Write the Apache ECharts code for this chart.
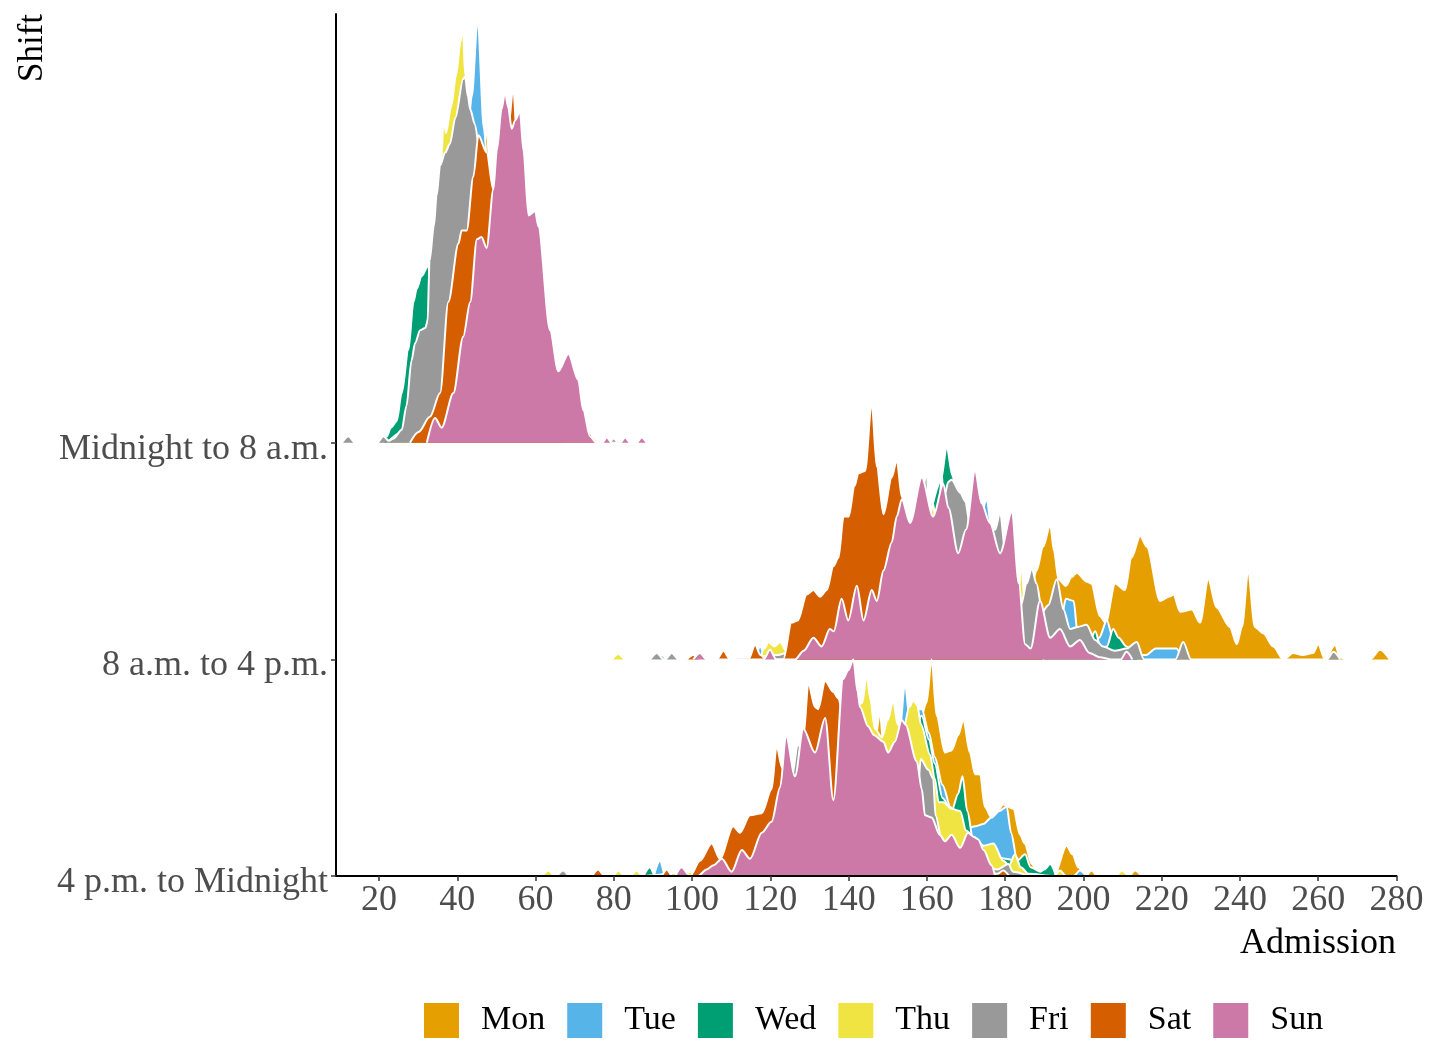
<!DOCTYPE html>
<html><head><meta charset="utf-8">
<script src="https://cdn.jsdelivr.net/npm/echarts@6/dist/echarts.min.js"></script>
<style>html,body{margin:0;padding:0;background:#fff}#c{width:1435px;height:1045px}</style>
</head><body><div id="c"></div>
<script>
const days = ['Mon','Tue','Wed','Thu','Fri','Sat','Sun'];
const dayColors = ['#E69F00','#56B4E9','#009E73','#F0E442','#999999','#D55E00','#CC79A7'];
// shifts listed bottom row first
const shifts = ['4 p.m. to Midnight','8 a.m. to 4 p.m.','Midnight to 8 a.m.'];
const shiftTicks = [0,1,2];
const xTicks = [20,40,60,80,100,120,140,160,180,200,220,240,260,280];

// ridge heights ([admission, scaled density]); 1 = spacing between ridges
// ---- Midnight to 8 a.m.
const night_mon = [[20,0],[28,0.1],[32,0.3],[36,0.7],[40,1.0],[44,1.2],[46.5,1.3],[47.5,1.45],[48.5,1.2],[50,1.0],[54,0.7],[58,0.4],[62,0.2],[66,0.05],[70,0]];
const night_tue = [[22,0],[28,0.1],[32,0.4],[36,0.9],[40,1.2],[42.5,1.4],[43.7,1.6],[45.2,1.96],[46.8,1.45],[48,1.2],[50,1.0],[53,0.7],[56,0.45],[60,0.2],[65,0.05],[70,0]];
const night_wed = [[21,0],[22,0.03],[23,0.07],[24.5,0.1],[25.8,0.23],[27.5,0.43],[28.8,0.65],[29.6,0.71],[30.9,0.77],[32.6,0.82],[33.2,0.7],[35,0.95],[37,1.15],[40,1.2],[43,1.05],[46,0.8],[50,0.55],[54,0.35],[58,0.18],[62,0.07],[66,0.02],[70,0]];
const night_thu = [[22,0],[26,0.05],[30,0.3],[33,0.6],[35.5,1.1],[36.1,1.35],[36.4,1.5],[37.1,1.43],[38.4,1.55],[39.7,1.7],[40.8,1.85],[41.4,1.93],[42.0,1.7],[42.6,1.5],[44,1.25],[46,1.05],[50,0.75],[55,0.42],[60,0.2],[65,0.06],[70,0]];
const night_fri = [[10.5,0],[12.2,0.03],[13.9,0],[19.5,0],[21.1,0.03],[22.5,0.01],[23.7,0.02],[25.8,0.06],[27,0.17],[28.3,0.38],[29.2,0.46],[30.5,0.52],[31.8,0.53],[32.4,0.56],[32.9,0.84],[34,1.0],[34.7,1.14],[35.6,1.28],[36.9,1.34],[38.1,1.38],[39.5,1.5],[41.5,1.68],[42,1.69],[42.7,1.6],[43.3,1.54],[44.5,1.47],[46,1.3],[48,1.1],[50,0.9],[53,0.6],[56,0.35],[60,0.15],[64,0.05],[68,0],[78.8,0],[79.9,0.02],[81,0]];
const night_sat = [[27.9,0],[30.1,0.05],[33,0.12],[35.6,0.23],[37.7,0.65],[40.3,0.92],[41.1,0.98],[42.4,0.98],[44.1,1.23],[45.4,1.42],[47.5,1.34],[49.2,1.17],[51,1.3],[53,1.45],[54.3,1.64],[55.2,1.42],[57,1.2],[60,0.9],[64,0.4],[68,0.22],[72,0.07],[76,0]];
const night_sun = [[32.2,0],[34.3,0.115],[36,0.07],[39,0.23],[41.5,0.49],[43.3,0.65],[45,0.94],[46.2,0.95],[47.5,0.9],[49.2,1.17],[50.1,1.35],[51.3,1.54],[52.2,1.62],[53,1.55],[53.9,1.45],[54.8,1.49],[56,1.53],[56.9,1.35],[58.2,1.05],[59.9,1.07],[60.7,1.0],[63.7,0.52],[65.8,0.33],[68.4,0.41],[70.9,0.29],[72.2,0.15],[73.9,0.03],[75.6,0],[77,0],[78.2,0.025],[79.5,0],[81.6,0],[82.9,0.025],[84.2,0],[85.8,0],[87.1,0.025],[88.4,0]];

// ---- 8 a.m. to 4 p.m.
const day_mon = [[115,0],[125,0.03],[135,0.08],[145,0.15],[155,0.22],[165,0.3],[175,0.3],[182,0.25],[185,0.26],[187,0.36],[188,0.41],[189.7,0.52],[191.5,0.62],[192.5,0.5],[193.6,0.37],[195.5,0.34],[197,0.38],[198.3,0.4],[200.8,0.36],[202,0.35],[204.2,0.2],[205.7,0.17],[208.1,0.35],[210.6,0.32],[212.3,0.47],[214.5,0.57],[216.2,0.52],[219.6,0.27],[222,0.29],[223,0.3],[224.7,0.22],[227.7,0.23],[229.8,0.17],[231.9,0.37],[234,0.24],[237.4,0.15],[239.2,0.07],[240.5,0.15],[242.1,0.4],[243.8,0.15],[246,0.12],[248.5,0.06],[251.1,0],[253.6,0.03],[256,0.02],[258.7,0.03],[260,0.07],[261.7,0],[264.3,0.066],[265.6,0.01],[267,0],[273.2,0],[275.8,0.045],[278.3,0]];
const day_tue = [[90.5,0],[92.2,0.02],[93.8,0],[115.8,0],[117.4,0.06],[118.8,0],[122,0.02],[130,0.15],[140,0.35],[150,0.5],[158,0.62],[160.5,0.68],[161.2,0.75],[162,0.62],[166,0.6],[173,0.6],[175.3,0.74],[176.5,0.6],[180,0.4],[185,0.22],[190,0.18],[194.5,0.2],[195.5,0.28],[197.5,0.27],[198.5,0.12],[201,0.07],[204,0.1],[206,0.18],[207.5,0.1],[210,0.04],[213,0.02],[216,0.02],[218.5,0.05],[223.8,0.05],[225,0]];
const day_wed = [[118.5,0],[119.5,0.02],[120.3,0.1],[121,0.04],[123,0.03],[125,0.06],[130,0.2],[135,0.3],[145,0.45],[155,0.5],[160,0.65],[163.5,0.82],[165.1,0.98],[166.5,0.85],[168,0.7],[172,0.5],[178,0.35],[185,0.2],[192,0.1],[198,0.08],[201.5,0.08],[203,0.13],[204.5,0.05],[206,0.06],[207.6,0.14],[209,0.1],[211,0.06],[212.5,0.04],[214,0]];
const day_thu = [[79.5,0],[81.2,0.025],[82.9,0],[117,0],[118.5,0.05],[119.5,0.08],[121,0.06],[122.5,0.08],[124,0.04],[130,0.13],[140,0.3],[150,0.45],[158,0.6],[161,0.68],[161.6,0.72],[162.3,0.62],[163.3,0.75],[163.8,0.86],[164.3,0.72],[170,0.55],[178,0.35],[182,0.25],[183.5,0.3],[184.1,0.46],[185,0.25],[190,0.15],[195,0.1],[200,0.05],[205,0.02],[210,0]];
const day_fri = [[89.3,0],[91,0.03],[92.7,0],[93.1,0],[94.8,0.03],[96.5,0],[104,0],[115,0.01],[122,0.02],[124,0.03],[126,0.1],[130,0.2],[140,0.4],[150,0.55],[155,0.6],[158.5,0.75],[160,0.86],[160.6,0.65],[163,0.65],[164.5,0.76],[165.5,0.82],[166.3,0.83],[168.5,0.77],[169.8,0.73],[171,0.62],[174,0.55],[177.5,0.6],[178.7,0.68],[180,0.5],[182,0.3],[184,0.25],[185.5,0.35],[186.8,0.42],[188,0.35],[189.5,0.22],[191,0.25],[193.2,0.37],[194.9,0.23],[196.6,0.14],[198.5,0.15],[200.8,0.16],[203,0.09],[205,0.06],[208,0.04],[211,0.05],[213.6,0.08],[215.5,0],[223.5,0],[225.5,0.08],[227.5,0],[262.2,0],[263.9,0.035],[265.6,0]];
const day_sat = [[98.6,0],[100.3,0.02],[102,0],[106.3,0],[108,0.04],[109.7,0],[114.4,0],[116.1,0.066],[117.5,0.02],[119,0],[123.3,0],[125.4,0.17],[127,0.18],[129.3,0.3],[131,0.32],[132.7,0.29],[134.4,0.32],[136.1,0.43],[137.4,0.47],[138.7,0.66],[140,0.66],[141.5,0.8],[142.5,0.86],[144.2,0.87],[145.9,1.18],[147.2,0.89],[148.9,0.67],[151,0.84],[152.3,0.92],[153.6,0.75],[156,0.58],[160,0.5],[165,0.4],[170,0.3],[175,0.2],[180,0.1],[185,0.04],[190,0]];
const day_sun = [[100.3,0],[102,0.03],[103.7,0],[118.3,0],[119.9,0.045],[121.5,0],[126.3,0],[128.5,0.04],[131,0.1],[133.1,0.06],[135.2,0.14],[136.2,0.13],[138.2,0.28],[139.9,0.18],[142.1,0.34],[143.8,0.18],[145.9,0.32],[147.2,0.27],[148.9,0.41],[151,0.54],[152.3,0.66],[153.6,0.74],[155.7,0.63],[158.7,0.84],[161.6,0.66],[164.2,0.81],[165.5,0.7],[168,0.49],[170,0.6],[172.3,0.87],[174,0.72],[176.1,0.63],[178.7,0.49],[181.7,0.68],[183.5,0.35],[185.1,0.07],[186.5,0.05],[188.9,0.27],[191.5,0.1],[194,0.14],[196.6,0.06],[199.1,0.09],[201.5,0.03],[204.2,0.01],[207,0],[209.5,0],[211,0.035],[212.5,0]];

// ---- 4 p.m. to Midnight
const eve_mon = [[95,0],[110,0.05],[120,0.15],[130,0.3],[140,0.5],[145,0.6],[147,0.65],[148,0.76],[148.8,0.62],[152,0.65],[156,0.7],[158,0.7],[159.9,0.8],[161.2,1.0],[162.5,0.74],[164.6,0.57],[166.3,0.58],[168,0.65],[169.3,0.72],[171,0.57],[172.3,0.47],[173.6,0.47],[174.8,0.32],[176.5,0.27],[178,0.3],[179.5,0.33],[182.1,0.31],[183.8,0.19],[185,0.15],[186.8,0.055],[188,0.03],[190,0],[192.5,0],[195.7,0.14],[197.2,0.1],[198.7,0.04],[200.5,0],[202.1,0.025],[203.6,0],[211.6,0],[213.2,0.025],[214.8,0]];
const eve_tue = [[90.2,0],[91.8,0.07],[93.2,0],[100,0.02],[110,0.1],[120,0.28],[130,0.5],[140,0.62],[145,0.6],[150,0.62],[153,0.66],[154.4,0.89],[155.5,0.74],[157,0.77],[158.7,0.77],[160.5,0.66],[162,0.55],[164,0.42],[166,0.32],[167.5,0.27],[170,0.22],[172.5,0.23],[174.4,0.24],[176.5,0.27],[178.5,0.3],[180.4,0.32],[181.5,0.2],[183,0.08],[185,0.05],[187,0.02],[188,0.03],[189.5,0],[197.5,0],[199.1,0.025],[200.7,0]];
const eve_wed = [[87.6,0],[89.2,0.04],[90.6,0],[95,0],[105,0.05],[115,0.15],[125,0.35],[135,0.5],[145,0.58],[148.5,0.64],[149.3,0.72],[150.2,0.6],[155,0.62],[157,0.7],[158.7,0.74],[160.5,0.63],[162,0.52],[164,0.36],[166.3,0.3],[168,0.38],[169.1,0.46],[170.3,0.3],[172,0.15],[175,0.1],[180,0.08],[183,0.07],[185.1,0.1],[186.5,0.04],[189,0.02],[190,0.03],[191.5,0.055],[193,0]];
const eve_thu = [[61.7,0],[63.3,0.025],[64.9,0],[79.6,0],[81.2,0.025],[82.8,0],[84.2,0],[85.8,0.025],[87.4,0],[100,0.02],[110,0.1],[120,0.28],[130,0.5],[138,0.7],[141.5,0.78],[143.5,0.8],[144.6,0.93],[145.5,0.82],[146.7,0.68],[148.5,0.64],[150,0.72],[151.4,0.81],[152.5,0.7],[154,0.68],[155.5,0.78],[156.5,0.81],[157.5,0.79],[158.5,0.7],[160.8,0.56],[162,0.45],[163,0.34],[164.2,0.34],[166.3,0.31],[168.5,0.3],[170,0.21],[172,0.18],[174.5,0.14],[177,0.15],[179.5,0.07],[181,0.05],[182.5,0.1],[184,0.04],[186,0.01],[192.4,0],[194,0.025],[195.6,0],[208.2,0],[209.8,0.025],[211.4,0]];
const eve_fri = [[65.5,0],[67.1,0.025],[68.7,0],[100,0],[105,0.02],[107.6,0.06],[108.8,0.2],[109.5,0.05],[112,0.08],[118,0.2],[122,0.33],[124,0.35],[125.4,0.45],[127,0.6],[128.3,0.69],[129,0.6],[130,0.55],[132,0.5],[136,0.55],[140,0.6],[145,0.55],[150,0.5],[155,0.45],[157.8,0.42],[158.4,0.54],[160.4,0.49],[161.6,0.45],[162.2,0.28],[164,0.15],[168,0.1],[172,0.07],[173.1,0.1],[174,0.05],[178,0.03],[180.8,0.055],[182,0.02],[186,0]];
const eve_sat = [[74.4,0],[76,0.03],[77.6,0],[92,0],[93.5,0.03],[95,0],[99.5,0],[102,0.07],[105,0.15],[107.1,0.08],[110.5,0.23],[112.2,0.2],[114.8,0.28],[117.8,0.29],[120.3,0.4],[121.6,0.6],[123,0.5],[124.5,0.45],[126,0.45],[127.5,0.5],[128.5,0.65],[129.7,0.89],[131.4,0.78],[132.2,0.77],[134,0.9],[136.1,0.85],[137.4,0.82],[138.5,0.75],[142,0.6],[146,0.45],[150,0.32],[155,0.18],[160,0.1],[168,0.05],[174,0.02],[178,0.01],[179.5,0.025],[181,0]];
const eve_sun = [[95.7,0],[97.3,0.04],[99.5,0],[101.5,0],[103.7,0.03],[105.5,0.05],[107.6,0.08],[110.1,0.02],[112.7,0.12],[114.8,0.08],[117.8,0.2],[120.3,0.25],[122.5,0.41],[124,0.65],[126.3,0.46],[128.4,0.68],[131.4,0.57],[134,0.73],[136.1,0.35],[138.6,0.91],[139.9,0.95],[141.2,1.0],[142.3,0.85],[142.9,0.78],[145,0.69],[146.5,0.65],[148.9,0.62],[150.1,0.57],[151.8,0.62],[153.6,0.72],[154.5,0.7],[157.4,0.53],[158.7,0.4],[159.5,0.28],[161.2,0.27],[163.3,0.19],[164.6,0.16],[166.3,0.19],[168.5,0.13],[170.5,0.2],[172,0.18],[173.1,0.17],[174.5,0.12],[176.5,0.05],[177.4,0]];

// rows, bottom first; each row lists days Mon..Sun
const ridgeRows = [
  [eve_mon, eve_tue, eve_wed, eve_thu, eve_fri, eve_sat, eve_sun],
  [day_mon, day_tue, day_wed, day_thu, day_fri, day_sat, day_sun],
  [night_mon, night_tue, night_wed, night_thu, night_fri, night_sat, night_sun]
];

// ---- layout
const FONT = '"Liberation Serif","Times New Roman",Times,serif';
const X_MIN = 9, X_MAX = 280, Y_TOP = 3.98;
const plotTop = 14, plotBottom = 169, plotLeft = 336, plotRight = 38.5;
const plotH = 1045 - plotTop - plotBottom;
const unitPx = plotH / Y_TOP;

const grids = [], xAxes = [], yAxes = [], series = [];
for (let r = 0; r < 3; r++) {
  grids.push({ left: plotLeft, right: plotRight, top: plotTop, bottom: plotBottom + r * unitPx, containLabel: false });
  const main = r === 0;
  xAxes.push({
    type: 'value', gridIndex: r, min: X_MIN, max: X_MAX, show: main, z: 200,
    axisLine: { show: true, onZero: false, lineStyle: { color: '#000', width: 2 } },
    axisTick: { show: true, length: 5, customValues: xTicks, lineStyle: { color: '#333', width: 1.5 } },
    axisLabel: { customValues: xTicks, margin: 7, color: '#4D4D4D', fontSize: 36, fontFamily: FONT },
    splitLine: { show: false }
  });
  yAxes.push({
    type: 'value', gridIndex: r, min: 0, max: Y_TOP - r, show: main, z: 200,
    axisLine: { show: true, onZero: false, lineStyle: { color: '#000', width: 2 } },
    axisTick: { show: true, length: 5, customValues: shiftTicks, lineStyle: { color: '#333', width: 1.5 } },
    axisLabel: { customValues: shiftTicks, margin: 8,
                 formatter: v => '{s|' + (shifts[Math.round(v)] || '') + '}',
                 rich: { s: { color: '#4D4D4D', fontSize: 36, fontFamily: FONT, padding: [13, 0, 0, 0] } } },
    splitLine: { show: false }
  });
}
// draw top ridge first so lower ridges overlap it; each ridge layer gets its own z
let layer = 0;
for (let r = 2; r >= 0; r--) {
  days.forEach((d, i) => {
    layer++;
    series.push({
      type: 'line', name: d, xAxisIndex: r, yAxisIndex: r,
      data: ridgeRows[r][i], z: layer + 2,
      smooth: 0.3, smoothMonotone: 'x',
      symbol: 'none', showSymbol: false, silent: true,
      lineStyle: { color: '#ffffff', width: 2 },
      itemStyle: { color: dayColors[i] },
      areaStyle: { color: dayColors[i], opacity: 1 },
      emphasis: { disabled: true }
    });
  });
}

const chart = echarts.init(document.getElementById('c'), null, { renderer: 'canvas' });
chart.setOption({
  backgroundColor: '#ffffff',
  animation: false,
  grid: grids, xAxis: xAxes, yAxis: yAxes, series: series,
  legend: {
    data: days.map((d, i) => ({ name: d, itemStyle: { color: dayColors[i], borderWidth: 0 } })),
    icon: 'rect', itemWidth: 35, itemHeight: 35, itemGap: 22, padding: 0,
    left: 424, top: 1003, selectedMode: false,
    textStyle: { fontFamily: FONT, fontSize: 34, color: '#000', padding: [6, 0, 0, 17] }
  },
  graphic: [
    { type: 'text', x: 33, y: 14, rotation: Math.PI / 2,
      style: { text: 'Shift', fill: '#000', font: '35px ' + FONT, align: 'right', verticalAlign: 'middle' } },
    { type: 'text', x: 1396, y: 944,
      style: { text: 'Admission', fill: '#000', font: '36px ' + FONT, align: 'right', verticalAlign: 'middle' } }
  ]
});
</script>
</body></html>
